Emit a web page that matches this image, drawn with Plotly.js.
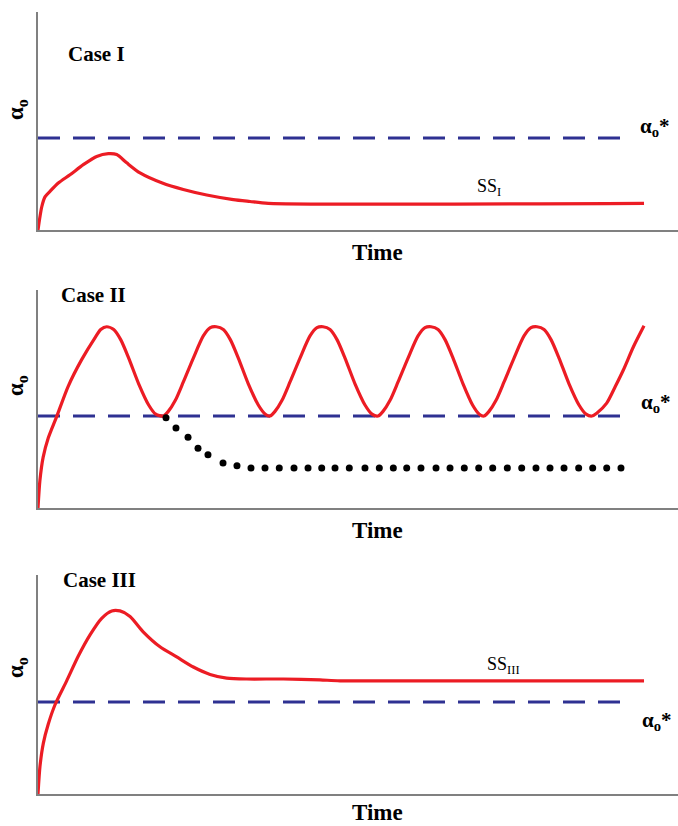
<!DOCTYPE html>
<html>
<head>
<meta charset="utf-8">
<script src="https://cdn.plot.ly/plotly-3.0.1.min.js"></script>
<style>html,body{margin:0;padding:0;background:#fff;}#chart{width:678px;height:826px;}</style>
</head>
<body>
<div id="chart"></div>
<script>
// ---- Data (time in arbitrary units 0..100, alpha_o in units of alpha_o*) ----
const thresholdTime = [0, 92.34];
const thresholdAlpha = [1, 1];

const case1Time  = [0, 0.58, 1.09, 1.88, 3.17, 5.0, 7.08, 9.17, 10.99, 12.3, 13.86, 15.94, 19.42, 22.7, 26.36, 30.52, 33.13, 35.99, 94.69];
const case1Alpha = [0, 0.25, 0.36, 0.42, 0.51, 0.60, 0.71, 0.80, 0.83, 0.82, 0.73, 0.62, 0.51, 0.44, 0.38, 0.33, 0.31, 0.29, 0.29];

const case2Time = [0, 0.3, 0.8, 1.6, 2.9, 4.7, 6.8, 8.9, 9.8, 10.73, 11.83, 12.92, 14.17, 15.73, 17.29, 18.39, 19.58,
  20.36, 21.46, 22.71, 24.27, 25.83, 26.92, 27.86, 28.96, 30.05, 31.30, 32.86, 34.42, 35.52, 36.25,
  37.03, 38.13, 39.38, 40.94, 42.50, 43.59, 44.53, 45.63, 46.72, 47.97, 49.53, 51.09, 52.19, 53.13,
  53.91, 55.01, 56.26, 57.82, 59.38, 60.47, 61.41, 62.51, 63.60, 64.85, 66.41, 67.90, 68.95, 69.69,
  70.47, 71.57, 72.82, 74.38, 75.94, 77.03, 77.97, 79.07, 80.16, 81.41, 82.97, 84.53, 85.63, 86.56,
  87.3, 88.86, 90.2, 91.46, 93.02, 94.69];
const case2Alpha = [0, 0.30, 0.55, 0.76, 0.99, 1.32, 1.61, 1.85, 1.94, 1.97, 1.94, 1.83, 1.63, 1.35, 1.12, 1.02, 1.0,
  1.05, 1.17, 1.37, 1.63, 1.87, 1.96, 1.97, 1.94, 1.83, 1.63, 1.35, 1.12, 1.02, 1.0,
  1.05, 1.17, 1.37, 1.63, 1.87, 1.96, 1.97, 1.94, 1.83, 1.63, 1.35, 1.12, 1.02, 1.0,
  1.05, 1.17, 1.37, 1.63, 1.87, 1.96, 1.97, 1.94, 1.83, 1.63, 1.35, 1.12, 1.02, 1.0,
  1.05, 1.17, 1.37, 1.63, 1.87, 1.96, 1.97, 1.94, 1.83, 1.63, 1.35, 1.12, 1.02, 1.0,
  1.03, 1.14, 1.32, 1.50, 1.75, 1.98];

const case2DotTime = [20.0, 21.56, 23.44, 25.0, 26.56, 28.91, 31.09, 33.28, 35.47, 37.70, 40.0, 42.19, 44.33, 46.41,
  48.64, 51.09, 53.33, 55.52, 57.61, 59.84, 62.19, 64.38, 66.61, 68.86, 71.05, 73.33, 75.58, 77.81,
  80.0, 82.19, 84.48, 86.67, 88.86, 91.09];
const case2DotAlpha = [0.98, 0.87, 0.77, 0.65, 0.58, 0.49, 0.46, 0.435, 0.435, 0.435, 0.435, 0.435, 0.435, 0.435,
  0.435, 0.435, 0.435, 0.435, 0.435, 0.435, 0.435, 0.435, 0.435, 0.435, 0.435, 0.435, 0.435, 0.435,
  0.435, 0.435, 0.435, 0.435, 0.435, 0.435];

const case3Time  = [0, 0.31, 0.83, 1.61, 2.66, 4.48, 6.30, 8.13, 9.95, 11.52, 12.81, 14.38, 16.47, 19.06, 21.67, 24.27, 26.88, 29.48, 32.61, 38.33, 44.06, 47.19, 94.69];
const case3Alpha = [0, 0.30, 0.55, 0.76, 0.97, 1.23, 1.50, 1.73, 1.91, 1.99, 1.99, 1.93, 1.76, 1.60, 1.49, 1.38, 1.30, 1.26, 1.25, 1.25, 1.24, 1.23, 1.23];

const panelTitles = ['Case I', 'Case II', 'Case III'];
const xTitle = 'Time';
const yTitle = 'α<sub>o</sub>';
const thresholdLabel = 'α<sub>o</sub>*';
const ssLabels = ['SS<sub>I</sub>', 'SS<sub>III</sub>'];

// ---- Styles ----
const RED = '#ec1c24';
const BLUE = '#2e3192';
const AXIS = '#808080';
const SERIF = 'Liberation Serif, Times New Roman, serif';

const redLine = {color: RED, width: 3.2, shape: 'spline', smoothing: 0.7};
const dashLine = {color: BLUE, width: 3, dash: '22px,13px'};

const traces = [
  {x: thresholdTime, y: thresholdAlpha, xaxis: 'x', yaxis: 'y', mode: 'lines', line: dashLine},
  {x: case1Time, y: case1Alpha, xaxis: 'x', yaxis: 'y', mode: 'lines', line: redLine},
  {x: thresholdTime, y: thresholdAlpha, xaxis: 'x2', yaxis: 'y2', mode: 'lines', line: dashLine},
  {x: case2Time, y: case2Alpha, xaxis: 'x2', yaxis: 'y2', mode: 'lines', line: redLine},
  {x: case2DotTime, y: case2DotAlpha, xaxis: 'x2', yaxis: 'y2', mode: 'markers', marker: {color: '#000', size: 7}},
  {x: thresholdTime, y: thresholdAlpha, xaxis: 'x3', yaxis: 'y3', mode: 'lines', line: dashLine},
  {x: case3Time, y: case3Alpha, xaxis: 'x3', yaxis: 'y3', mode: 'lines', line: redLine}
];

const W = 678, H = 826;
const px = v => v / W;
const py = v => 1 - v / H;

function xax(anchor) {
  return {domain: [px(38), 1], range: [0, 100], showline: true, linecolor: AXIS, linewidth: 2,
    showgrid: false, zeroline: false, showticklabels: false, ticks: '', anchor: anchor, fixedrange: true};
}
function yax(anchor, top, bottom) {
  return {domain: [py(bottom), py(top)], range: [0, (bottom - top) / 92], showline: true, linecolor: AXIS, linewidth: 2,
    showgrid: false, zeroline: false, showticklabels: false, ticks: '', anchor: anchor, fixedrange: true};
}

function ann(text, x, y, size, extra) {
  return Object.assign({text: text, x: px(x), y: py(y), xref: 'paper', yref: 'paper', showarrow: false,
    xanchor: 'center', yanchor: 'middle', font: {family: SERIF, size: size, color: '#000'}}, extra || {});
}

const annotations = [
  ann('<b>' + panelTitles[0] + '</b>', 96, 54, 21),
  ann('<b>' + panelTitles[1] + '</b>', 93, 295, 21),
  ann('<b>' + panelTitles[2] + '</b>', 99, 580, 21),
  ann('<b>' + xTitle + '</b>', 377.5, 252, 23),
  ann('<b>' + xTitle + '</b>', 377.5, 530, 23),
  ann('<b>' + xTitle + '</b>', 377.5, 812, 23),
  ann('<b>' + yTitle + '</b>', 17, 110, 23, {textangle: -90}),
  ann('<b>' + yTitle + '</b>', 17, 386, 23, {textangle: -90}),
  ann('<b>' + yTitle + '</b>', 17, 668, 23, {textangle: -90}),
  ann('<b>' + thresholdLabel + '</b>', 655, 127, 21),
  ann('<b>' + thresholdLabel + '</b>', 656, 403, 21),
  ann('<b>' + thresholdLabel + '</b>', 657, 721, 21),
  ann(ssLabels[0], 489, 187, 18),
  ann(ssLabels[1], 503, 665, 18)
];

const layout = {
  width: W, height: H,
  margin: {l: 0, r: 0, t: 0, b: 0},
  paper_bgcolor: '#fff', plot_bgcolor: '#fff',
  showlegend: false,
  xaxis: xax('y'), yaxis: yax('x', 12, 230),
  xaxis2: xax('y2'), yaxis2: yax('x2', 290, 508),
  xaxis3: xax('y3'), yaxis3: yax('x3', 575, 794),
  annotations: annotations
};

Plotly.newPlot('chart', traces, layout, {displayModeBar: false, staticPlot: true});
</script>
</body>
</html>
